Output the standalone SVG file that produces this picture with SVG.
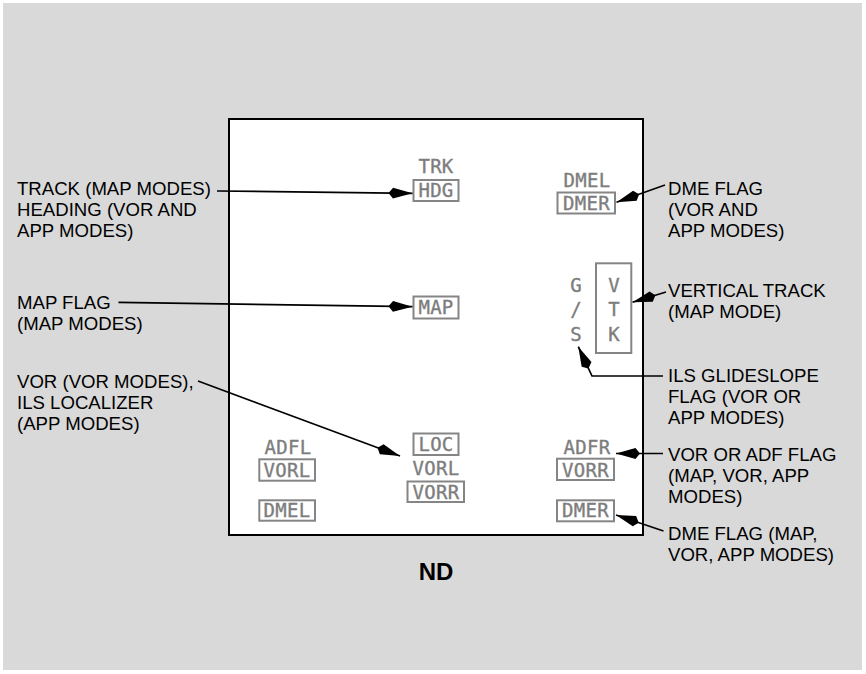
<svg xmlns="http://www.w3.org/2000/svg" width="866" height="674" viewBox="0 0 866 674">
<style>
.bg{fill:#d9d9d9}
.nd{fill:#ffffff;stroke:#000;stroke-width:2}
.lbl{font-family:"Liberation Sans",Arial,sans-serif;font-size:18.6px;fill:#000}
.ttl{font-family:"Liberation Sans",Arial,sans-serif;font-size:24px;font-weight:bold;fill:#000}
.g{font-family:"DejaVu Sans Mono",monospace;font-size:19px;fill:#7d7d7d;text-anchor:middle;letter-spacing:0.3px;stroke:#7d7d7d;stroke-width:0.35}
.gb{fill:none;stroke:#858585;stroke-width:2}
.con{fill:none;stroke:#000;stroke-width:1.7}
</style>
<defs>
<marker id="ah" markerUnits="userSpaceOnUse" markerWidth="24" markerHeight="12" viewBox="0 0 24 12" refX="24" refY="6" orient="auto">
<path d="M24,6 L4.5,0.6 L0,6 L4.5,11.4 Z" fill="#000"/>
</marker>
</defs>
<rect class="bg" x="3" y="3" width="859" height="667"/>
<g id="nd-display">
<rect class="nd" x="229" y="119" width="414" height="416"/>
<text class="ttl" x="436" y="580" text-anchor="middle">ND</text>
</g>
<g id="trk-hdg">
<text class="g" x="436" y="173">TRK</text>
<rect class="gb" x="413.5" y="180" width="45" height="21"/>
<text class="g" x="436" y="197">HDG</text>
</g>
<g id="dme-top">
<text class="g" x="587" y="187">DMEL</text>
<rect class="gb" x="557.5" y="192.5" width="57.5" height="21"/>
<text class="g" x="586.5" y="210">DMER</text>
</g>
<g id="map-flag">
<rect class="gb" x="413.5" y="296.5" width="45" height="22"/>
<text class="g" x="436" y="314">MAP</text>
</g>
<g id="gs-flag">
<text class="g" x="576" y="292">G</text>
<text class="g" x="576" y="316">/</text>
<text class="g" x="576" y="341">S</text>
</g>
<g id="vtk-flag">
<rect class="gb" x="596" y="263.3" width="35.3" height="89.7"/>
<text class="g" x="614" y="292">V</text>
<text class="g" x="614" y="316">T</text>
<text class="g" x="614" y="341">K</text>
</g>
<g id="loc-vor-center">
<rect class="gb" x="413.5" y="433.5" width="45" height="21.5"/>
<text class="g" x="436" y="451">LOC</text>
<text class="g" x="436" y="475">VORL</text>
<rect class="gb" x="407.5" y="481.5" width="56.5" height="20.5"/>
<text class="g" x="436" y="498.5">VORR</text>
</g>
<g id="left-flags">
<text class="g" x="288" y="454">ADFL</text>
<rect class="gb" x="259.3" y="459.3" width="55.7" height="21.4"/>
<text class="g" x="287" y="476.5">VORL</text>
<rect class="gb" x="259.3" y="500.3" width="55.7" height="20.4"/>
<text class="g" x="287" y="517">DMEL</text>
</g>
<g id="right-flags">
<text class="g" x="587" y="454">ADFR</text>
<rect class="gb" x="557" y="458.7" width="57" height="21.3"/>
<text class="g" x="585.5" y="476.5">VORR</text>
<rect class="gb" x="557" y="500.3" width="57" height="21"/>
<text class="g" x="585.5" y="517.3">DMER</text>
</g>
<g id="label-track">
<text class="lbl" x="17" y="195">TRACK (MAP MODES)</text>
<text class="lbl" x="17" y="216">HEADING (VOR AND</text>
<text class="lbl" x="17" y="237">APP MODES)</text>
</g>
<g id="label-map">
<text class="lbl" x="17" y="309">MAP FLAG</text>
<text class="lbl" x="17" y="330">(MAP MODES)</text>
</g>
<g id="label-vor">
<text class="lbl" x="17" y="388">VOR (VOR MODES),</text>
<text class="lbl" x="17" y="409">ILS LOCALIZER</text>
<text class="lbl" x="17" y="430">(APP MODES)</text>
</g>
<g id="label-dme-top">
<text class="lbl" x="668" y="195">DME FLAG</text>
<text class="lbl" x="668" y="216">(VOR AND</text>
<text class="lbl" x="668" y="237">APP MODES)</text>
</g>
<g id="label-vtk">
<text class="lbl" x="668" y="297">VERTICAL TRACK</text>
<text class="lbl" x="668" y="318">(MAP MODE)</text>
</g>
<g id="label-gs">
<text class="lbl" x="668" y="382">ILS GLIDESLOPE</text>
<text class="lbl" x="668" y="403">FLAG (VOR OR</text>
<text class="lbl" x="668" y="424">APP MODES)</text>
</g>
<g id="label-adf">
<text class="lbl" x="668" y="461">VOR OR ADF FLAG</text>
<text class="lbl" x="668" y="482">(MAP, VOR, APP</text>
<text class="lbl" x="668" y="503">MODES)</text>
</g>
<g id="label-dme-bottom">
<text class="lbl" x="668" y="540">DME FLAG (MAP,</text>
<text class="lbl" x="668" y="561">VOR, APP MODES)</text>
</g>
<g id="connectors">
<path class="con" d="M217,191 L412.5,193.3" marker-end="url(#ah)"/>
<path class="con" d="M118.5,302.3 L412.5,306.7" marker-end="url(#ah)"/>
<path class="con" d="M198,381 L400,456" marker-end="url(#ah)"/>
<path class="con" d="M665,185 L616.5,202.3" marker-end="url(#ah)"/>
<path class="con" d="M666,292 L632.5,302.3" marker-end="url(#ah)"/>
<path class="con" d="M663,376 L592,376 L578.3,346.7" marker-end="url(#ah)"/>
<path class="con" d="M663,453.5 L616,453.5" marker-end="url(#ah)"/>
<path class="con" d="M663.5,531 L616,515" marker-end="url(#ah)"/>
</g>
</svg>
